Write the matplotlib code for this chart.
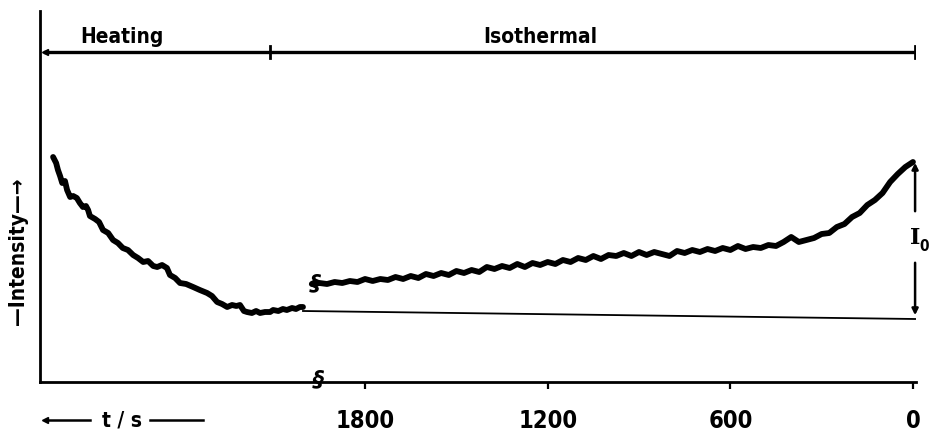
import matplotlib
matplotlib.use('Agg')
import matplotlib.pyplot as plt

# heating part (drawn left of the axis break), t / s and intensity (arb. units)
heat_t = [2825, 2815, 2809, 2802, 2795, 2786, 2779, 2769, 2759, 2747,
          2737, 2727, 2717, 2710, 2704, 2687, 2674, 2661, 2644, 2628,
          2612, 2596, 2579, 2562, 2546, 2529, 2513, 2496, 2483, 2467,
          2451, 2441, 2424, 2408, 2388, 2365, 2343, 2319, 2303, 2286,
          2270, 2253, 2237, 2223, 2211, 2198, 2188, 2172, 2158, 2145,
          2129, 2112, 2102, 2085, 2070, 2057, 2040, 2027, 2014, 2004]
heat_I = [225, 219, 212, 206, 199, 201, 192, 185, 186, 184,
          179, 175, 176, 172, 166, 163, 160, 152, 149, 142,
          139, 134, 132, 127, 124, 120, 121, 116, 115, 117,
          114, 107, 104, 99, 98, 95, 92, 89, 86, 80,
          78, 75, 77, 76, 77, 71, 70, 69, 71, 69,
          70, 70, 72, 71, 73, 72, 74, 73, 75, 75]

# isothermal part
iso_t = [1975, 1950, 1925, 1900, 1875, 1850, 1825, 1800, 1775,
         1750, 1725, 1700, 1675, 1650, 1625, 1600, 1575, 1550, 1525,
         1500, 1475, 1450, 1425, 1400, 1375, 1350, 1325, 1300, 1275,
         1250, 1225, 1200, 1175, 1150, 1125, 1100, 1075, 1050, 1025,
         1000, 975, 950, 925, 900, 875, 850, 825, 800, 775,
         750, 725, 700, 675, 650, 625, 600, 575, 550, 525,
         500, 475, 450, 425, 400, 375, 350, 325, 300, 275,
         250, 225, 200, 175, 150, 125, 100, 75, 50, 25, 0]
iso_I = [98, 99, 98, 100, 99, 101, 100, 103, 101,
         103, 102, 105, 103, 106, 104, 108, 106, 109, 107,
         111, 109, 112, 110, 115, 113, 116, 114, 118, 115,
         119, 117, 120, 118, 122, 120, 124, 122, 126, 123,
         127, 126, 129, 126, 130, 127, 130, 128, 126, 131,
         129, 132, 130, 133, 131, 134, 132, 136, 133, 135,
         134, 137, 136, 140, 145, 140, 142, 144, 148, 149,
         155, 158, 165, 169, 177, 182, 189, 200, 208, 215, 220]

base_t = [2004, -7]
base_I = [71, 63]

xticks = [1800, 1200, 600, 0]

fig = plt.figure(figsize=(9.31, 4.35), dpi=100)
ax = fig.add_axes([40/931, 52/435, 876/931, 371/435])

ax.plot(heat_t, heat_I, color='black', lw=4.2, solid_joinstyle='round', solid_capstyle='round')
ax.plot(iso_t, iso_I, color='black', lw=4.2, solid_joinstyle='round', solid_capstyle='round')
ax.plot(base_t, base_I, color='black', lw=1.3)

# time bar on top
ax.plot([2851, -7], [330, 330], color='black', lw=2.4)
ax.plot([2851], [330], marker='<', color='black', ms=5)
ax.plot([2112, 2112], [324, 336], color='black', lw=2)
ax.plot([-7, -7], [324, 336], color='black', lw=2)
bold_font = dict(family='DejaVu Sans', fontweight='bold', fontstretch='condensed')
ax.text(2598, 336, 'Heating', ha='center', va='bottom', fontsize=15, **bold_font)
ax.text(1225, 336, 'Isothermal', ha='center', va='bottom', fontsize=15, **bold_font)

# I0 arrow
ax.annotate('', xy=(-7, 222), xytext=(-7, 168),
            arrowprops=dict(arrowstyle='-|>', color='black', lw=1.8, mutation_scale=9))
ax.annotate('', xy=(-7, 64), xytext=(-7, 122),
            arrowprops=dict(arrowstyle='-|>', color='black', lw=1.8, mutation_scale=9))
ax.text(-7, 145, 'I', ha='center', va='center', fontsize=16, family='DejaVu Serif',
        fontweight='bold')
ax.text(-20, 136, '0', ha='left', va='center', fontsize=11, **bold_font)

# axis breaks
ax.text(1964, 100, '§', ha='center', va='center', fontsize=16, style='italic', fontweight='bold')
ax.text(1955, 4, '§', ha='center', va='center', fontsize=16, style='italic', fontweight='bold',
        clip_on=False)

ax.set_xlim(2868, -10)
ax.set_ylim(0, 371)
ax.spines['top'].set_visible(False)
ax.spines['right'].set_visible(False)
ax.spines['left'].set_linewidth(2)
ax.spines['bottom'].set_linewidth(2)
ax.set_yticks([])
ax.set_xticks(xticks)
ax.set_xticklabels([str(v) for v in xticks], fontsize=17, **bold_font)
ax.tick_params(axis='x', direction='out', length=5, width=1.6, pad=14)

fig.text(18/931, 1 - 251/435, '\u2014Intensity\u2014\u2192', rotation=90,
         ha='center', va='center', fontsize=15, fontweight='bold', fontstretch='condensed')
fig.text(122/931, 1 - 421/435, 't / s', ha='center', va='center', fontsize=15,
         fontweight='bold', fontstretch='condensed')
fig.add_artist(plt.Line2D([150/931, 203/931], [1 - 421/435] * 2, color='black', lw=1.8))
fig.add_artist(plt.Line2D([45/931, 90/931], [1 - 421/435] * 2, color='black', lw=1.8,
                          marker='<', markevery=[0], ms=5))

fig.savefig('out.png', dpi=100)
